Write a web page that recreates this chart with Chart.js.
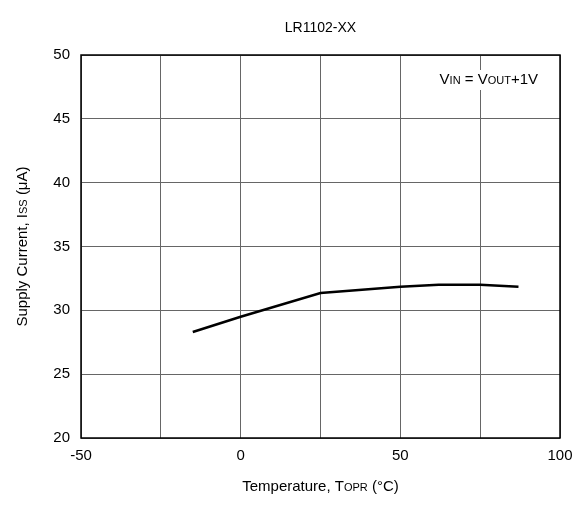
<!DOCTYPE html>
<html>
  <head>
    <meta charset="utf-8" />
    <title>LR1102-XX</title>
    <script src="https://cdn.jsdelivr.net/npm/chart.js@4"></script>
    <style>
      body { margin: 0; background: #fff; }
    </style>
  </head>
  <body>
    <canvas id="myChart" width="582" height="509"></canvas>
    <script>
      const temps = [-15, 0, 25, 37, 50, 62, 75, 87];
      const currents = [28.3, 29.5, 31.35, 31.6, 31.85, 32.0, 32.0, 31.85];
      const xTicks = [-50, -25, 0, 25, 50, 75, 100];
      const xLabels = [-50, 0, 50, 100];
      const yTicks = [20, 25, 30, 35, 40, 45, 50];

      const FONT = "'Liberation Sans', Arial, sans-serif";
      const condText = [["V", 15], ["IN", 11], [" = V", 15], ["OUT", 11], ["+1V", 15]];

      // draw text runs with mixed sizes (small caps style subscripts)
      function drawRuns(ctx, runs, x, y, align) {
        let total = 0;
        runs.forEach((r) => {
          ctx.font = r[1] + "px " + FONT;
          total += ctx.measureText(r[0]).width;
        });
        let cx = align === "center" ? x - total / 2 : align === "right" ? x - total : x;
        ctx.textAlign = "left";
        ctx.textBaseline = "alphabetic";
        runs.forEach((r) => {
          ctx.font = r[1] + "px " + FONT;
          ctx.fillText(r[0], cx, y);
          cx += ctx.measureText(r[0]).width;
        });
        return total;
      }

      const condPlugin = {
        id: "cond",
        beforeDatasetsDraw(chart) {
          const { ctx, chartArea: a } = chart;
          ctx.save();
          let w = 0;
          condText.forEach((r) => {
            ctx.font = r[1] + "px " + FONT;
            w += ctx.measureText(r[0]).width;
          });
          ctx.fillStyle = "#fff";
          ctx.fillRect(a.right - 22 - w - 4, 70, w + 8, 20);
          ctx.fillStyle = "#000";
          drawRuns(ctx, condText, a.right - 22, 84, "right");
          ctx.restore();
        },
      };

      const labelsPlugin = {
        id: "labels",
        afterDraw(chart) {
          const { ctx, chartArea: a } = chart;
          ctx.save();
          ctx.strokeStyle = "#000";
          ctx.lineWidth = 1.5;
          ctx.strokeRect(a.left, a.top, a.right - a.left, a.bottom - a.top);
          ctx.fillStyle = "#000";
          drawRuns(ctx, [["LR1102-XX", 14]], (a.left + a.right) / 2, 32, "center");
          drawRuns(ctx, [["Temperature, T", 15], ["OPR", 11], [" (°C)", 15]], (a.left + a.right) / 2, a.bottom + 53, "center");
          ctx.translate(27, (a.top + a.bottom) / 2);
          ctx.rotate(-Math.PI / 2);
          drawRuns(ctx, [["Supply Current, I", 15], ["SS", 11], [" (μA)", 15]], 0, 0, "center");
          ctx.restore();
        },
      };

      const data = {
        datasets: [
          {
            data: temps.map((t, i) => ({ x: t, y: currents[i] })),
            borderColor: "#000",
            borderWidth: 2.5,
            pointRadius: 0,
            tension: 0,
            fill: false,
          },
        ],
      };

      const config = {
        type: "line",
        data: data,
        options: {
          responsive: false,
          animation: false,
          layout: { padding: { top: 55, right: 22, left: 0, bottom: 0 } },
          plugins: {
            legend: { display: false },
            tooltip: { enabled: false },
          },
          scales: {
            x: {
              type: "linear",
              min: -50,
              max: 100,
              afterBuildTicks: (s) => { s.ticks = xTicks.map((v) => ({ value: v })); },
              afterFit: (s) => { s.height = 71; },
              grid: { color: "#666", lineWidth: 1, drawTicks: false },
              border: { display: false },
              ticks: {
                color: "#000",
                font: { family: FONT, size: 15 },
                padding: 9,
                maxRotation: 0,
                autoSkip: false,
                callback: (v) => (xLabels.includes(v) ? v : ""),
              },
            },
            y: {
              min: 20,
              max: 50,
              afterBuildTicks: (s) => { s.ticks = yTicks.map((v) => ({ value: v })); },
              afterFit: (s) => { s.width = 81; },
              grid: { color: "#666", lineWidth: 1, drawTicks: false },
              border: { display: false },
              ticks: { color: "#000", font: { family: FONT, size: 15 }, padding: 11 },
            },
          },
        },
        plugins: [condPlugin, labelsPlugin],
      };

      const ctx = document.getElementById("myChart");
      const myChart = new Chart(ctx, config);
    </script>
  </body>
</html>
